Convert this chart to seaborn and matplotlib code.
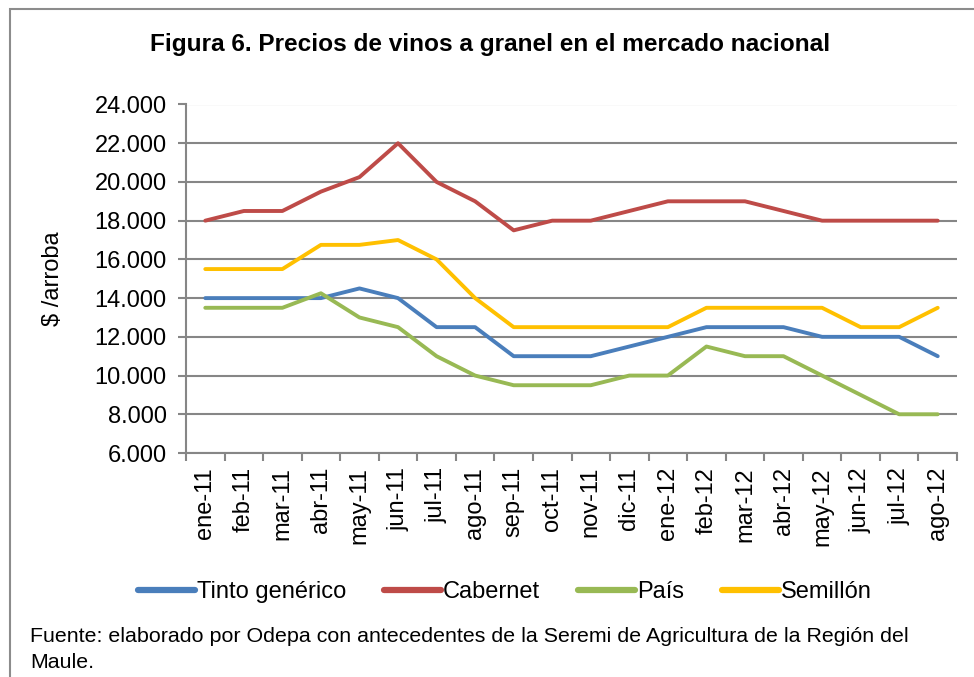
import matplotlib
matplotlib.use("Agg")
import matplotlib.pyplot as plt
import seaborn as sns
import pandas as pd
import numpy as np
from matplotlib.patches import Rectangle
from matplotlib.ticker import FuncFormatter, MultipleLocator, FixedLocator

meses = ["ene-11", "feb-11", "mar-11", "abr-11", "may-11", "jun-11", "jul-11",
         "ago-11", "sep-11", "oct-11", "nov-11", "dic-11", "ene-12", "feb-12",
         "mar-12", "abr-12", "may-12", "jun-12", "jul-12", "ago-12"]
tinto = [14000, 14000, 14000, 14000, 14500, 14000, 12500, 12500, 11000, 11000,
         11000, 11500, 12000, 12500, 12500, 12500, 12000, 12000, 12000, 11000]
cabernet = [18000, 18500, 18500, 19500, 20250, 22000, 20000, 19000, 17500, 18000,
            18000, 18500, 19000, 19000, 19000, 18500, 18000, 18000, 18000, 18000]
pais = [13500, 13500, 13500, 14250, 13000, 12500, 11000, 10000, 9500, 9500,
        9500, 10000, 10000, 11500, 11000, 11000, 10000, 9000, 8000, 8000]
semillon = [15500, 15500, 15500, 16750, 16750, 17000, 16000, 14000, 12500, 12500,
            12500, 12500, 12500, 13500, 13500, 13500, 13500, 12500, 12500, 13500]

series = ["Tinto genérico", "Cabernet", "País", "Semillón"]
colores = ["#4A7EBB", "#BE4B48", "#98B954", "#FFC000"]

df = pd.concat([
    pd.DataFrame({"mes": meses, "x": np.arange(len(meses)), "valor": v, "serie": s})
    for s, v in zip(series, [tinto, cabernet, pais, semillon])
])

sns.set_theme(style="white")
plt.rcParams["font.family"] = ["Liberation Sans", "DejaVu Sans"]
plt.rcParams["text.color"] = "black"
plt.rcParams["axes.labelcolor"] = "black"
plt.rcParams["xtick.labelcolor"] = "black"
plt.rcParams["ytick.labelcolor"] = "black"

fig = plt.figure(figsize=(9.74, 6.77), dpi=100)
ax = fig.add_axes([186 / 974, 1 - 453 / 677, (957 - 186) / 974, (453 - 104.5) / 677])

sns.lineplot(data=df, x="x", y="valor", hue="serie", hue_order=series,
             palette=colores, linewidth=2.8, ax=ax, legend=True, sort=False)

gray = "#868686"
ax.set_ylim(6000, 24000)
ax.set_xlim(-0.5, len(meses) - 0.5)
ax.yaxis.set_major_locator(MultipleLocator(2000))
ax.yaxis.set_major_formatter(FuncFormatter(lambda v, p: f"{int(v):,}".replace(",", ".")))
ax.grid(axis="y", color=gray, linewidth=1.5)
ax.set_axisbelow(True)
for s in ["top", "right"]:
    ax.spines[s].set_visible(False)
for s in ["left", "bottom"]:
    ax.spines[s].set_color(gray)
    ax.spines[s].set_linewidth(1.5)

ax.set_xticks(np.arange(len(meses)))
ax.set_xticklabels(meses, rotation=90, fontsize=17, color="black")
ax.xaxis.set_minor_locator(FixedLocator(np.arange(len(meses) + 1) - 0.5))
ax.tick_params(axis="x", which="major", length=0, pad=10)
ax.tick_params(axis="x", which="minor", length=6, width=1.5, color=gray, direction="out", bottom=True)
ax.tick_params(axis="y", which="major", length=6, width=1.5, color=gray, direction="out", left=True,
               labelsize=17, pad=8, labelcolor="black")
ax.set_xlabel("")
ax.set_ylabel("$ /arroba", fontsize=17, labelpad=22, color="black")

ax.legend_.remove()
handles, labels = ax.get_legend_handles_labels()
for h in handles:
    h.set_linewidth(4.5)
leg = fig.legend(handles, labels, loc="center", bbox_to_anchor=(505 / 974, 1 - 592 / 677),
                 ncol=4, frameon=False, fontsize=17, handlelength=2.4, handletextpad=0.1,
                 columnspacing=1.6)
for t in leg.get_texts():
    t.set_color("black")

fig.text(490 / 974, 1 - 45 / 677, "Figura 6. Precios de vinos a granel en el mercado nacional",
         ha="center", va="center", fontsize=17.6, fontweight="bold", color="black")
fig.text(30 / 974, 1 - 637 / 677,
         "Fuente: elaborado por Odepa con antecedentes de la Seremi de Agricultura de la Región del",
         ha="left", va="center", fontsize=15.4, color="black")
fig.text(30 / 974, 1 - 663 / 677, "Maule.",
         ha="left", va="center", fontsize=15.4, color="black")

fig.patches.append(Rectangle((10 / 974, -0.1), 1.1, 1 - 9 / 677 + 0.1, transform=fig.transFigure,
                             fill=False, edgecolor="#8C8C8C", linewidth=1.5))

fig.savefig("out.png", dpi=100)
